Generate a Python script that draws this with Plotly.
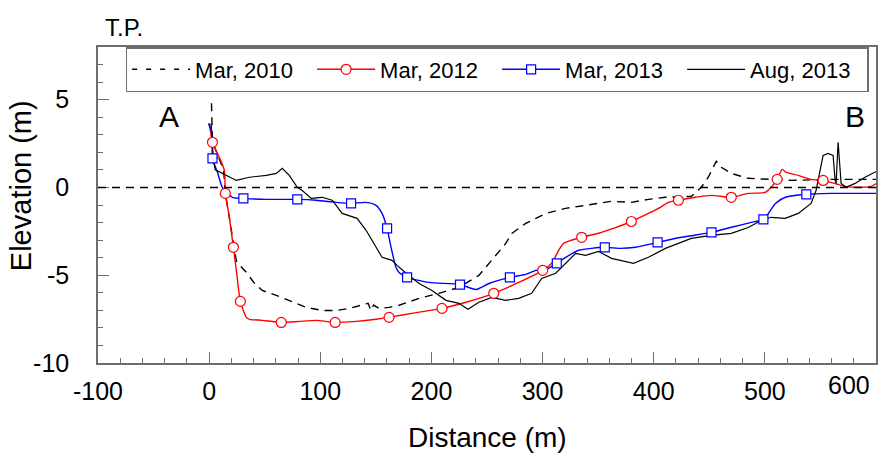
import plotly.graph_objects as go

# ---- survey profiles, distance (m) vs elevation (m, T.P.) ----
mar2010_x = [2.1, 2.3, 3.0, 8.0, 13.0, 14.5, 18.0, 21.5, 24.5, 28.5, 33.5, 40.0, 47.8, 60.4,
             72.1, 87.3, 101.7, 114.3, 125.9, 137.6, 143.0, 145.7, 148.0, 152.9, 161.9, 170.9,
             188.9, 206.8, 224.8, 242.7, 254.4, 266.9, 272.3, 284.8, 302.8, 320.7, 338.7,
             362.0, 379.9, 395.2, 410.5, 433.8, 442.8, 449.1, 453.6, 456.3, 460.8, 469.8,
             485.0, 500.3, 523.6, 559.5, 602.0]
mar2010_y = [4.8, 3.6, 2.6, 1.8, 1.0, -0.3, -1.7, -3.2, -4.2, -4.5, -4.84, -5.4, -5.87, -6.15,
             -6.44, -6.83, -7.01, -7.01, -6.89, -6.72, -6.6, -7.01, -6.7, -6.89, -6.83, -6.71,
             -6.32, -6.03, -5.69, -5.01, -4.15, -3.19, -2.62, -2.05, -1.48, -1.19, -1.02,
             -0.79, -0.85, -0.68, -0.56, -0.51, 0.01, 0.58, 1.15, 1.49, 1.15, 0.80,
             0.52, 0.46, 0.40, 0.46, 0.46]

mar2012_x = [0.3, 3.0, 9.2, 13.7, 14.6, 18.2, 21.8, 24.5, 28.1, 33.5, 36.2, 47.8, 64.9, 81.1,
             96.3, 113.4, 132.2, 150.2, 161.9, 182.5, 209.5, 231.0, 256.1, 278.5, 300.1,
             308.2, 314.5, 319.0, 335.2, 350.4, 365.0, 379.9, 395.2, 406.0, 413.2, 422.2,
             437.5, 451.8, 469.8, 485.0, 500.3, 505.7, 511.1, 515.6, 519.2, 529.9, 541.6,
             552.4, 559.5, 572.1, 583.8, 595.4, 602.0]
mar2012_y = [3.65, 2.57, 1.71, 0.97, -0.34, -1.70, -3.41, -4.73, -6.49, -7.40, -7.51, -7.57,
             -7.69, -7.63, -7.57, -7.69, -7.63, -7.51, -7.40, -7.17, -6.89, -6.54, -6.03,
             -5.41, -4.72, -4.32, -3.58, -3.18, -2.84, -2.61, -2.30, -1.94, -1.48, -1.13,
             -0.85, -0.73, -0.56, -0.45, -0.56, -0.34, -0.28, 0.01, 0.46, 1.03, 0.86, 0.69,
             0.46, 0.40, 0.29, 0.06, 0.01, 0.06, 0.29]
mar2012_mark_x = [3.0, 14.6, 21.8, 28.1, 64.9, 113.4, 161.9, 209.5, 256.1, 300.1, 335.2,
                  379.9, 422.2, 469.8, 511.1, 552.4]
mar2012_mark_y = [2.57, -0.34, -3.41, -6.49, -7.69, -7.69, -7.40, -6.89, -6.03, -4.72, -2.84,
                  -1.94, -0.73, -0.56, 0.46, 0.40]

mar2013_x = [-0.6, 2.5, 3.0, 7.5, 11.9, 20.9, 30.8, 51.4, 79.3, 96.3, 114.3, 127.7, 141.2,
             150.2, 155.6, 160.1, 163.7, 168.1, 170.9, 178.1, 197.8, 225.7, 240.1, 251.8,
             270.6, 285.0, 294.0, 302.9, 312.8, 320.9, 332.6, 356.0, 368.5, 383.8, 403.5,
             425.1, 452.0, 470.0, 487.9, 498.7, 503.2, 509.5, 518.5, 537.3, 559.7, 577.6, 602.0]
mar2013_y = [3.65, 3.08, 1.66, 0.86, 0.01, -0.56, -0.62, -0.68, -0.68, -0.73, -0.85, -0.91,
             -0.85, -1.02, -1.48, -2.33, -3.41, -4.55, -4.84, -5.12, -5.41, -5.53, -5.81,
             -5.47, -5.12, -4.95, -4.72, -4.67, -4.32, -3.98, -3.58, -3.41, -3.47, -3.41,
             -3.13, -2.84, -2.56, -2.27, -1.99, -1.82, -1.48, -0.91, -0.56, -0.39, -0.34,
             -0.34, -0.34]
mar2013_mark_x = [3.0, 30.8, 79.3, 127.7, 160.1, 178.1, 225.7, 270.6, 312.8, 356.0, 403.5,
                  452.0, 498.7, 537.3]
mar2013_mark_y = [1.66, -0.62, -0.68, -0.91, -2.33, -5.12, -5.53, -5.12, -4.32, -3.41, -3.13,
                  -2.56, -1.82, -0.39]

aug2013_x = [1.8, 3.2, 3.5, 7.5, 4.0, 5.5, 12.1, 24.5, 36.2, 51.4, 60.4, 65.8, 72.1, 79.3,
             83.8, 91.8, 101.7, 110.7, 119.7, 125.9, 133.1, 141.2, 150.2, 155.6, 164.6, 169.1,
             177.2, 188.9, 200.5, 213.1, 224.8, 232.9, 242.7, 254.4, 266.9, 278.5, 290.2,
             299.2, 311.8, 320.7, 329.7, 338.7, 350.4, 362.0, 377.3, 381.8, 395.2, 410.5,
             433.8, 451.8, 469.8, 485.0, 496.7, 505.7, 518.3, 530.0, 541.6, 546.1, 549.7,
             552.4, 556.9, 561.4, 563.2, 564.1, 565.9, 568.6, 573.1, 581.2, 590.1, 602.0]
aug2013_y = [3.63, 2.3, 1.9, 1.7, 1.5, 1.0, 0.80, 0.40, 0.58, 0.69, 0.80, 1.09, 0.69, 0.01,
             -0.17, -0.62, -0.56, -0.73, -1.48, -1.59, -1.76, -2.44, -3.41, -3.98, -4.15,
             -4.44, -4.89, -5.47, -5.87, -6.43, -6.60, -6.94, -6.54, -6.26, -6.43, -6.32,
             -6.03, -5.18, -4.89, -4.32, -3.76, -3.87, -3.64, -4.04, -4.26, -4.32, -3.98,
             -3.47, -2.90, -2.73, -2.62, -2.28, -1.88, -1.70, -1.76, -1.48, -0.91, -0.17,
             0.97, 1.83, 1.94, 1.83, 0.40, 0.23, 2.57, 0.23, 0.01, 0.23, 0.58, 0.97]

x_ticks = [-100, 0, 100, 200, 300, 400, 500]
y_ticks = [-10, -5, 0, 5]

FONT = "Arial, Liberation Sans, sans-serif"
AXIS_GREY = "#6e6e6e"

fig = go.Figure()

# profile lines (legend entries are added separately so line + marker show together)
fig.add_trace(go.Scatter(x=mar2010_x, y=mar2010_y, mode="lines", showlegend=False,
                         line=dict(color="black", width=1.4, dash="8px,6px")))
fig.add_trace(go.Scatter(x=mar2012_x, y=mar2012_y, mode="lines", showlegend=False,
                         line=dict(color="#ff0000", width=1.4, shape="spline", smoothing=0.6)))
fig.add_trace(go.Scatter(x=mar2013_x, y=mar2013_y, mode="lines", showlegend=False,
                         line=dict(color="#0000ff", width=1.4, shape="spline", smoothing=0.6)))
fig.add_trace(go.Scatter(x=aug2013_x, y=aug2013_y, mode="lines", showlegend=False,
                         line=dict(color="black", width=1.2)))

# survey markers
fig.add_trace(go.Scatter(x=mar2012_mark_x, y=mar2012_mark_y, mode="markers", showlegend=False,
                         marker=dict(symbol="circle", size=10, color="white",
                                     line=dict(color="#ff0000", width=1.2))))
fig.add_trace(go.Scatter(x=mar2013_mark_x, y=mar2013_mark_y, mode="markers", showlegend=False,
                         marker=dict(symbol="square", size=9, color="white",
                                     line=dict(color="#0000ff", width=1.2))))

# legend entries
fig.add_trace(go.Scatter(x=[None], y=[None], mode="lines", name="Mar, 2010",
                         line=dict(color="black", width=1.4, dash="5px,9px")))
fig.add_trace(go.Scatter(x=[None], y=[None], mode="lines+markers", name="Mar, 2012",
                         line=dict(color="#ff0000", width=1.4),
                         marker=dict(symbol="circle", size=10, color="white",
                                     line=dict(color="#ff0000", width=1.2))))
fig.add_trace(go.Scatter(x=[None], y=[None], mode="lines+markers", name="Mar, 2013",
                         line=dict(color="#0000ff", width=1.4),
                         marker=dict(symbol="square", size=9, color="white",
                                     line=dict(color="#0000ff", width=1.2))))
fig.add_trace(go.Scatter(x=[None], y=[None], mode="lines", name="Aug, 2013",
                         line=dict(color="black", width=1.2)))

# T.P. 0 m reference level
fig.add_shape(type="line", xref="paper", yref="y", x0=0, x1=1, y0=0, y1=0,
              line=dict(color="black", width=1.4, dash="8px,6px"))

fig.update_layout(
    width=880, height=457,
    margin=dict(l=98, r=2, t=47, b=94),
    paper_bgcolor="white", plot_bgcolor="white",
    font=dict(family=FONT, size=25, color="black"),
    showlegend=True,
    legend=dict(orientation="h", x=0.0355, y=1.0, xanchor="left", yanchor="top",
                bgcolor="white", bordercolor=AXIS_GREY, borderwidth=1.5,
                font=dict(size=22), itemwidth=58, entrywidth=112,
                tracegroupgap=0),
)

fig.update_xaxes(
    range=[-100, 600], tickvals=x_ticks, ticktext=[str(v) for v in x_ticks],
    showgrid=False, zeroline=False,
    showline=True, linecolor=AXIS_GREY, linewidth=1.5, mirror=True,
    ticks="inside", ticklen=11, tickwidth=1.2, tickcolor=AXIS_GREY,
    minor=dict(dtick=20, tick0=0, ticks="inside", ticklen=5, tickwidth=1.2,
               tickcolor=AXIS_GREY, showgrid=False),
    tickfont=dict(size=25), ticklabelstandoff=5,
)
fig.update_yaxes(
    range=[-10, 8], tickvals=y_ticks, ticktext=[str(v) for v in y_ticks],
    showgrid=False, zeroline=False,
    showline=True, linecolor=AXIS_GREY, linewidth=1.5, mirror=True,
    ticks="inside", ticklen=11, tickwidth=1.2, tickcolor=AXIS_GREY,
    minor=dict(dtick=1, tick0=0, ticks="inside", ticklen=5, tickwidth=1.2,
               tickcolor=AXIS_GREY, showgrid=False),
    tickfont=dict(size=25), ticklabelstandoff=22,
)

# last x tick label sits inside the frame edge
fig.add_annotation(x=600, y=0, xref="x", yref="paper", text="600", showarrow=False,
                   xanchor="right", yanchor="top", xshift=-4, yshift=-6,
                   font=dict(size=25))

# axis titles
fig.add_annotation(x=0.5, y=-0.235, xref="paper", yref="paper", text="Distance (m)",
                   showarrow=False, xanchor="center", yanchor="middle", font=dict(size=28))
fig.add_annotation(x=-0.098, y=0.562, xref="paper", yref="paper", text="Elevation (m)",
                   showarrow=False, textangle=-90, xanchor="center", yanchor="middle",
                   font=dict(size=29))

# section end labels and datum label
fig.add_annotation(x=-36.5, y=4.05, xref="x", yref="y", text="A", showarrow=False,
                   font=dict(size=30))
fig.add_annotation(x=581, y=4.05, xref="x", yref="y", text="B", showarrow=False,
                   font=dict(size=30))
fig.add_annotation(x=0.006, y=1.062, xref="paper", yref="paper", text="T.P.",
                   showarrow=False, xanchor="left", yanchor="middle", font=dict(size=24))

fig.write_html("out.html")
